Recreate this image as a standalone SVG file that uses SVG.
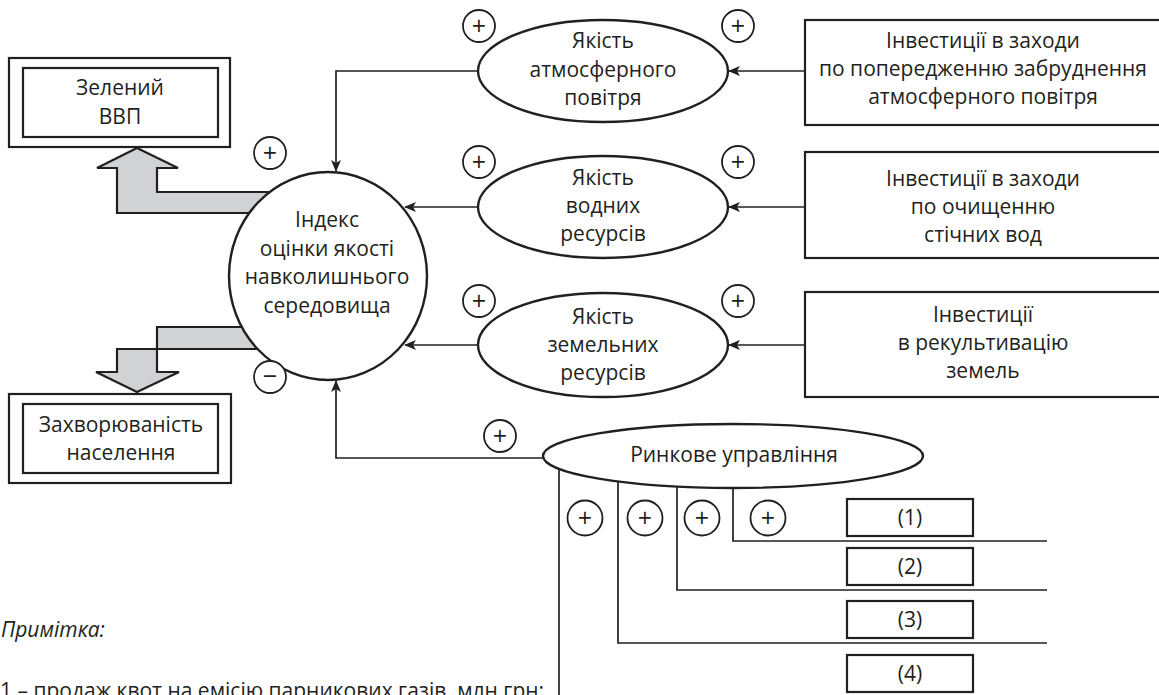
<svg xmlns="http://www.w3.org/2000/svg" width="1159" height="695" viewBox="0 0 1159 695">
<defs>
<marker id="arr" viewBox="0 0 12 10" markerWidth="12" markerHeight="10" refX="11" refY="5" orient="auto" markerUnits="userSpaceOnUse">
<path d="M0,0 L12,5 L0,10 L3,5 z" fill="#231f20"/>
</marker>
</defs>
<style>
text{font-family:"Open Sans","Noto Sans","Liberation Sans",sans-serif;font-size:21px;fill:#231f20;text-anchor:middle}
.sign{font-size:25px}
.note{text-anchor:start}
.it{font-style:italic}
.box{fill:#fff;stroke:#231f20;stroke-width:2.2}
.ell{fill:#fff;stroke:#231f20;stroke-width:2.4}
.pc{fill:#fff;stroke:#231f20;stroke-width:1.8}
.ln{fill:none;stroke:#231f20;stroke-width:1.7}
.blk{fill:#d1d2d4;stroke:#231f20;stroke-width:2.2}
</style>
<rect width="1159" height="695" fill="#fff"/>

<g id="block-arrows">
<polygon class="blk" points="117,213 117,168 97,168 137,148 178,168 157,168 157,192 280,192 280,213"/>
<polygon class="blk" points="280,327 157,327 157,372 179,372 137,392 96,372 117,372 117,349 280,349"/>
</g>

<g id="connectors">
<polyline class="ln" points="478,71 336,71 336,171" marker-end="url(#arr)"/>
<line class="ln" x1="805" y1="71" x2="729" y2="71" marker-end="url(#arr)"/>
<line class="ln" x1="478" y1="207" x2="405" y2="207" marker-end="url(#arr)"/>
<line class="ln" x1="805" y1="207" x2="729" y2="207" marker-end="url(#arr)"/>
<line class="ln" x1="478" y1="345" x2="405" y2="345" marker-end="url(#arr)"/>
<line class="ln" x1="805" y1="345" x2="729" y2="345" marker-end="url(#arr)"/>
<polyline class="ln" points="543,458 336,458 336,381" marker-end="url(#arr)"/>
<polyline class="ln" points="559,468 559,700"/>
<polyline class="ln" points="618,481 618,643 1047,643"/>
<polyline class="ln" points="677,486 677,590 1047,590"/>
<polyline class="ln" points="733,488 733,541 1047,541"/>
</g>

<g id="node-index">
<ellipse cx="328" cy="276" rx="99" ry="104" class="ell"/>
<text x="327" y="227">Індекс</text>
<text x="327" y="256">оцінки якості</text>
<text x="327" y="284">навколишнього</text>
<text x="327" y="313">середовища</text>
</g>

<g id="node-green-gdp">
<rect x="9" y="58" width="221" height="89" class="box"/>
<rect x="23" y="68" width="195" height="69" class="box"/>
<text x="120" y="95">Зелений</text>
<text x="120" y="124">ВВП</text>
</g>

<g id="node-morbidity">
<rect x="9" y="394" width="222" height="89" class="box"/>
<rect x="23" y="404" width="195" height="69" class="box"/>
<text x="121" y="432">Захворюваність</text>
<text x="121" y="460">населення</text>
</g>

<g id="node-air">
<ellipse cx="603" cy="71" rx="125" ry="51" class="ell"/>
<text x="603" y="48">Якість</text>
<text x="603" y="77">атмосферного</text>
<text x="603" y="105">повітря</text>
</g>
<g id="node-water">
<ellipse cx="603" cy="207" rx="125" ry="51" class="ell"/>
<text x="603" y="185">Якість</text>
<text x="603" y="213">водних</text>
<text x="603" y="241">ресурсів</text>
</g>
<g id="node-land">
<ellipse cx="603" cy="345" rx="125" ry="52" class="ell"/>
<text x="603" y="324">Якість</text>
<text x="603" y="352">земельних</text>
<text x="603" y="380">ресурсів</text>
</g>

<g id="node-inv-air">
<rect x="805" y="20" width="362" height="105" class="box"/>
<text x="983" y="48">Інвестиції в заходи</text>
<text x="983" y="76">по попередженню забруднення</text>
<text x="983" y="104">атмосферного повітря</text>
</g>
<g id="node-inv-water">
<rect x="805" y="152" width="362" height="106" class="box"/>
<text x="983" y="186">Інвестиції в заходи</text>
<text x="983" y="214">по очищенню</text>
<text x="983" y="242">стічних вод</text>
</g>
<g id="node-inv-land">
<rect x="805" y="292" width="362" height="105" class="box"/>
<text x="983" y="322">Інвестиції</text>
<text x="983" y="350">в рекультивацію</text>
<text x="983" y="378">земель</text>
</g>

<g id="node-market">
<ellipse cx="733" cy="456" rx="190" ry="32" class="ell"/>
<text x="734" y="462">Ринкове управління</text>
</g>

<g id="node-1"><rect x="847" y="499" width="126" height="37" class="box"/><text x="910" y="525">(1)</text></g>
<g id="node-2"><rect x="847" y="548" width="126" height="37" class="box"/><text x="910" y="574">(2)</text></g>
<g id="node-3"><rect x="847" y="601" width="126" height="37" class="box"/><text x="910" y="627">(3)</text></g>
<g id="node-4"><rect x="847" y="655" width="126" height="37" class="box"/><text x="910" y="681">(4)</text></g>

<g id="signs">
<circle cx="270" cy="153" r="16" class="pc"/><text class="sign" x="270" y="162">+</text>
<circle cx="270" cy="377" r="16" class="pc"/><text class="sign" x="270" y="385">−</text>
<circle cx="479" cy="26" r="16" class="pc"/><text class="sign" x="479" y="35">+</text>
<circle cx="738" cy="26" r="16" class="pc"/><text class="sign" x="738" y="35">+</text>
<circle cx="479" cy="162" r="16" class="pc"/><text class="sign" x="479" y="171">+</text>
<circle cx="738" cy="162" r="16" class="pc"/><text class="sign" x="738" y="171">+</text>
<circle cx="479" cy="301" r="16" class="pc"/><text class="sign" x="479" y="310">+</text>
<circle cx="738" cy="301" r="16" class="pc"/><text class="sign" x="738" y="310">+</text>
<circle cx="500" cy="436" r="16" class="pc"/><text class="sign" x="500" y="445">+</text>
<circle cx="585" cy="518" r="17.5" class="pc"/><text class="sign" x="585" y="527">+</text>
<circle cx="645" cy="518" r="17.5" class="pc"/><text class="sign" x="645" y="527">+</text>
<circle cx="702" cy="518" r="17.5" class="pc"/><text class="sign" x="702" y="527">+</text>
<circle cx="768" cy="518" r="17.5" class="pc"/><text class="sign" x="768" y="527">+</text>
</g>

<g id="note">
<text class="note it" x="1" y="637">Примітка:</text>
<text class="note" x="0" y="698">1 – продаж квот на емісію парникових газів, млн грн;</text>
</g>
</svg>
